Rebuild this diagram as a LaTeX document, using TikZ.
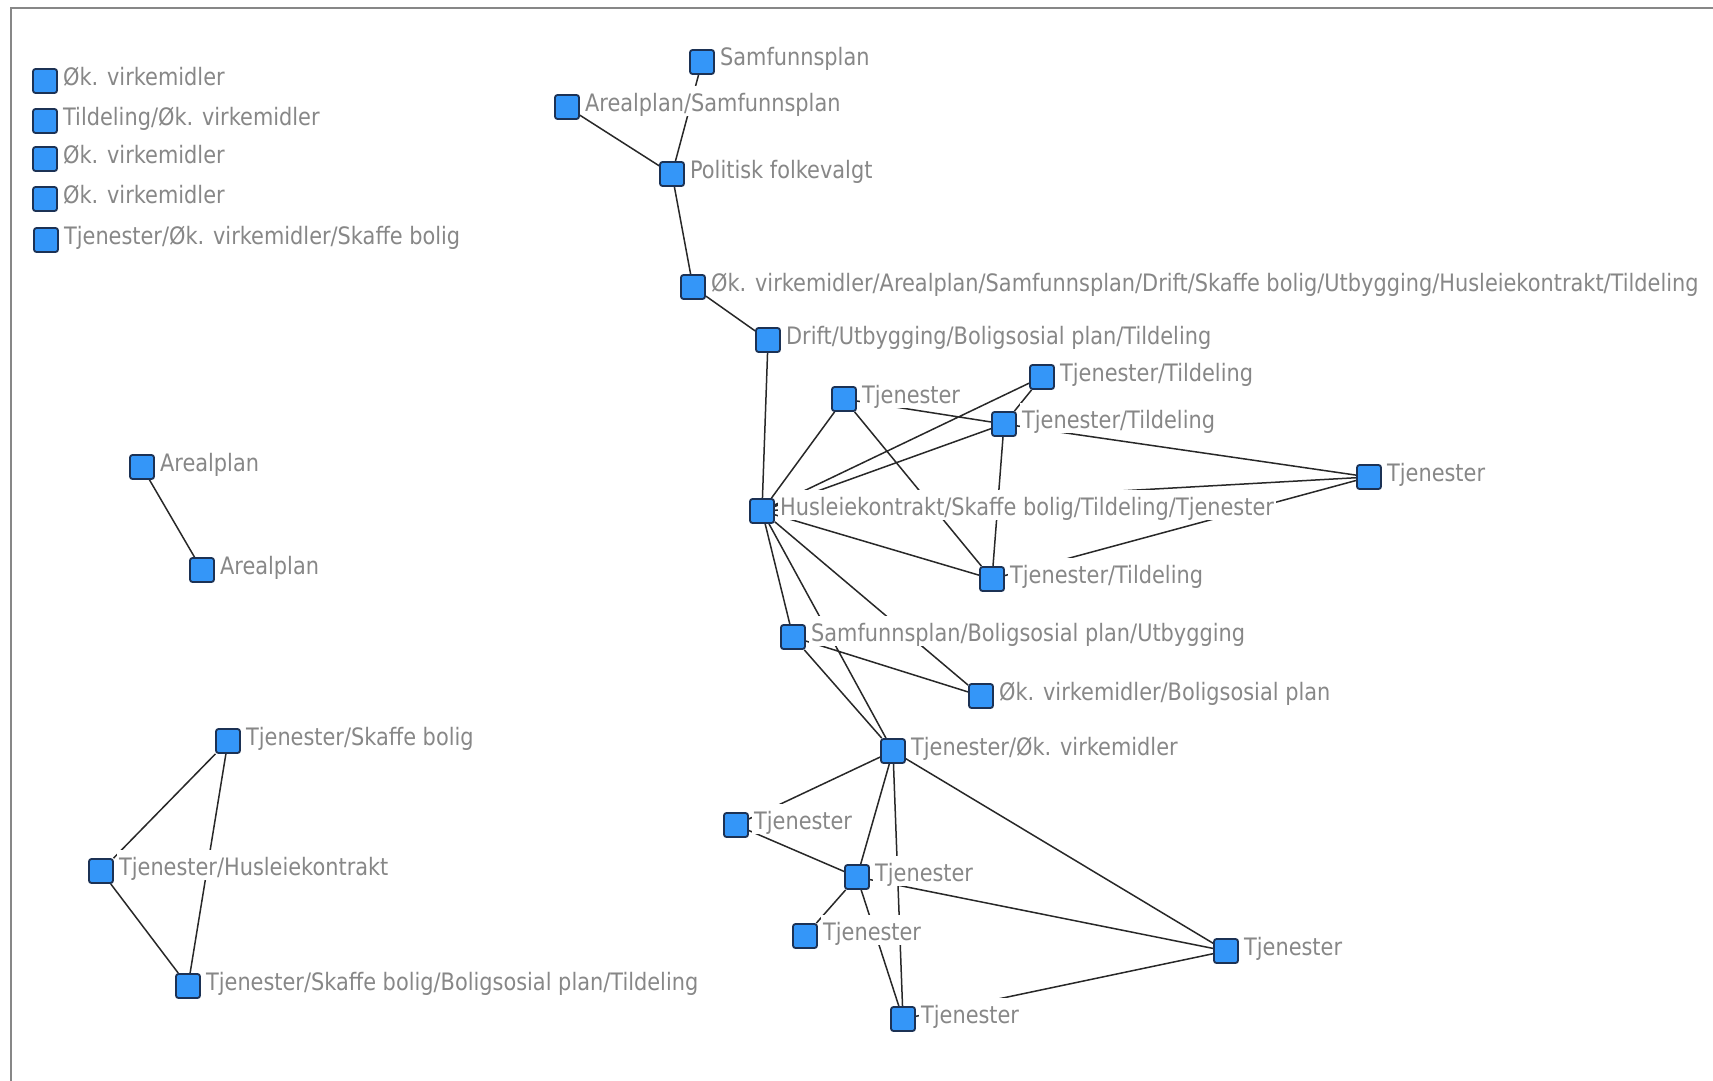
\documentclass[tikz,border=0pt]{standalone}
\usepackage{fontspec}
\setmainfont{DejaVu Sans}[FakeStretch=0.87]
\definecolor{boxblue}{RGB}{52,150,248}
\definecolor{boxedge}{RGB}{28,50,85}
\definecolor{lblgray}{RGB}{135,135,135}
\definecolor{edgecol}{RGB}{40,40,40}
\definecolor{framegray}{RGB}{135,135,135}
\pgfdeclarelayer{bg}
\pgfsetlayers{bg,main}
\tikzset{
  box/.style={rectangle, minimum width=24pt, minimum height=24pt, inner sep=0pt,
    rounded corners=2.5pt, fill=boxblue, draw=boxedge, line width=1.8pt},
  lbl/.style={fill=white, text=lblgray, inner xsep=2pt, inner ysep=2pt,
    text height=23.5pt, text depth=2.5pt, font=\fontsize{24}{28}\selectfont,
    anchor=base west},
  lnk/.style={draw=edgecol, line width=1.5pt}
}
\newcommand\mkvert[3]{%
  \node[box] (#1) at (#2) {};
  \node[lbl] (#1-l) at ([xshift=3pt,yshift=-4pt]#1.east) {#3};}
\begin{document}
\begin{tikzpicture}[x=1pt,y=-1pt]
\useasboundingbox (0,0) rectangle (1713,1081);
\begin{pgfonlayer}{bg}
\fill[white] (0,0) rectangle (1713,1081);
\draw[framegray, line width=2pt] (1713,8) -- (11,8) -- (11,1081);
\end{pgfonlayer}
% isolated
\mkvert{la}{45,81}{Øk. virkemidler}
\mkvert{lb}{45,121}{Tildeling/Øk. virkemidler}
\mkvert{lc}{45,159}{Øk. virkemidler}
\mkvert{ld}{45,199}{Øk. virkemidler}
\mkvert{le}{46,240}{Tjenester/Øk. virkemidler/Skaffe bolig}
% small components
\mkvert{aa}{142,467}{Arealplan}
\mkvert{ab}{202,570}{Arealplan}
\mkvert{ta}{228,741}{Tjenester/Skaffe bolig}
\mkvert{tb}{101,871}{Tjenester/Husleiekontrakt}
\mkvert{tc}{188,986}{Tjenester/Skaffe bolig/Boligsosial plan/Tildeling}
% main component
\mkvert{s}{702,62}{Samfunnsplan}
\mkvert{as}{567,107}{Arealplan/Samfunnsplan}
\mkvert{pf}{672,174}{Politisk folkevalgt}
\mkvert{ok}{693,287}{Øk. virkemidler/Arealplan/Samfunnsplan/Drift/Skaffe bolig/Utbygging/Husleiekontrakt/Tildeling}
\mkvert{du}{768,340}{Drift/Utbygging/Boligsosial plan/Tildeling}
\mkvert{tja}{844,399}{Tjenester}
\mkvert{tta}{1042,377}{Tjenester/Tildeling}
\mkvert{ttb}{1004,424}{Tjenester/Tildeling}
\mkvert{tjb}{1369,477}{Tjenester}
\mkvert{h}{762,511}{Husleiekontrakt/Skaffe bolig/Tildeling/Tjenester}
\mkvert{ttc}{992,579}{Tjenester/Tildeling}
\mkvert{sb}{793,637}{Samfunnsplan/Boligsosial plan/Utbygging}
\mkvert{ob}{981,696}{Øk. virkemidler/Boligsosial plan}
\mkvert{to}{893,751}{Tjenester/Øk. virkemidler}
\mkvert{tjc}{736,825}{Tjenester}
\mkvert{tjd}{857,877}{Tjenester}
\mkvert{tje}{805,936}{Tjenester}
\mkvert{tjf}{1226,951}{Tjenester}
\mkvert{tjg}{903,1019}{Tjenester}
\begin{pgfonlayer}{bg}
\path[lnk]
  (aa) -- (ab)
  (ta) -- (tb)  (ta) -- (tc)  (tb) -- (tc)
  (as) -- (pf)  (s) -- (pf)  (pf) -- (ok)  (ok) -- (du)  (du) -- (h)
  (h) -- (tja)  (tja) -- (ttb)  (tja) -- (ttc)
  (h) -- (tta)  (h) -- (ttb)  (tta) -- (ttb)  (ttb) -- (ttc)
  (ttb) -- (tjb)  (h) -- (tjb)  (ttc) -- (tjb)  (h) -- (ttc)
  (h) -- (sb)  (h) -- (to)  (h) -- (ob)  (sb) -- (ob)  (sb) -- (to)
  (to) -- (tjc)  (to) -- (tjd)  (to) -- (tjg)  (to) -- (tjf)
  (tjc) -- (tjd)  (tjd) -- (tje)  (tjd) -- (tjg)  (tjd) -- (tjf)
  (tjg) -- (tjf);
\end{pgfonlayer}
\end{tikzpicture}
\end{document}
